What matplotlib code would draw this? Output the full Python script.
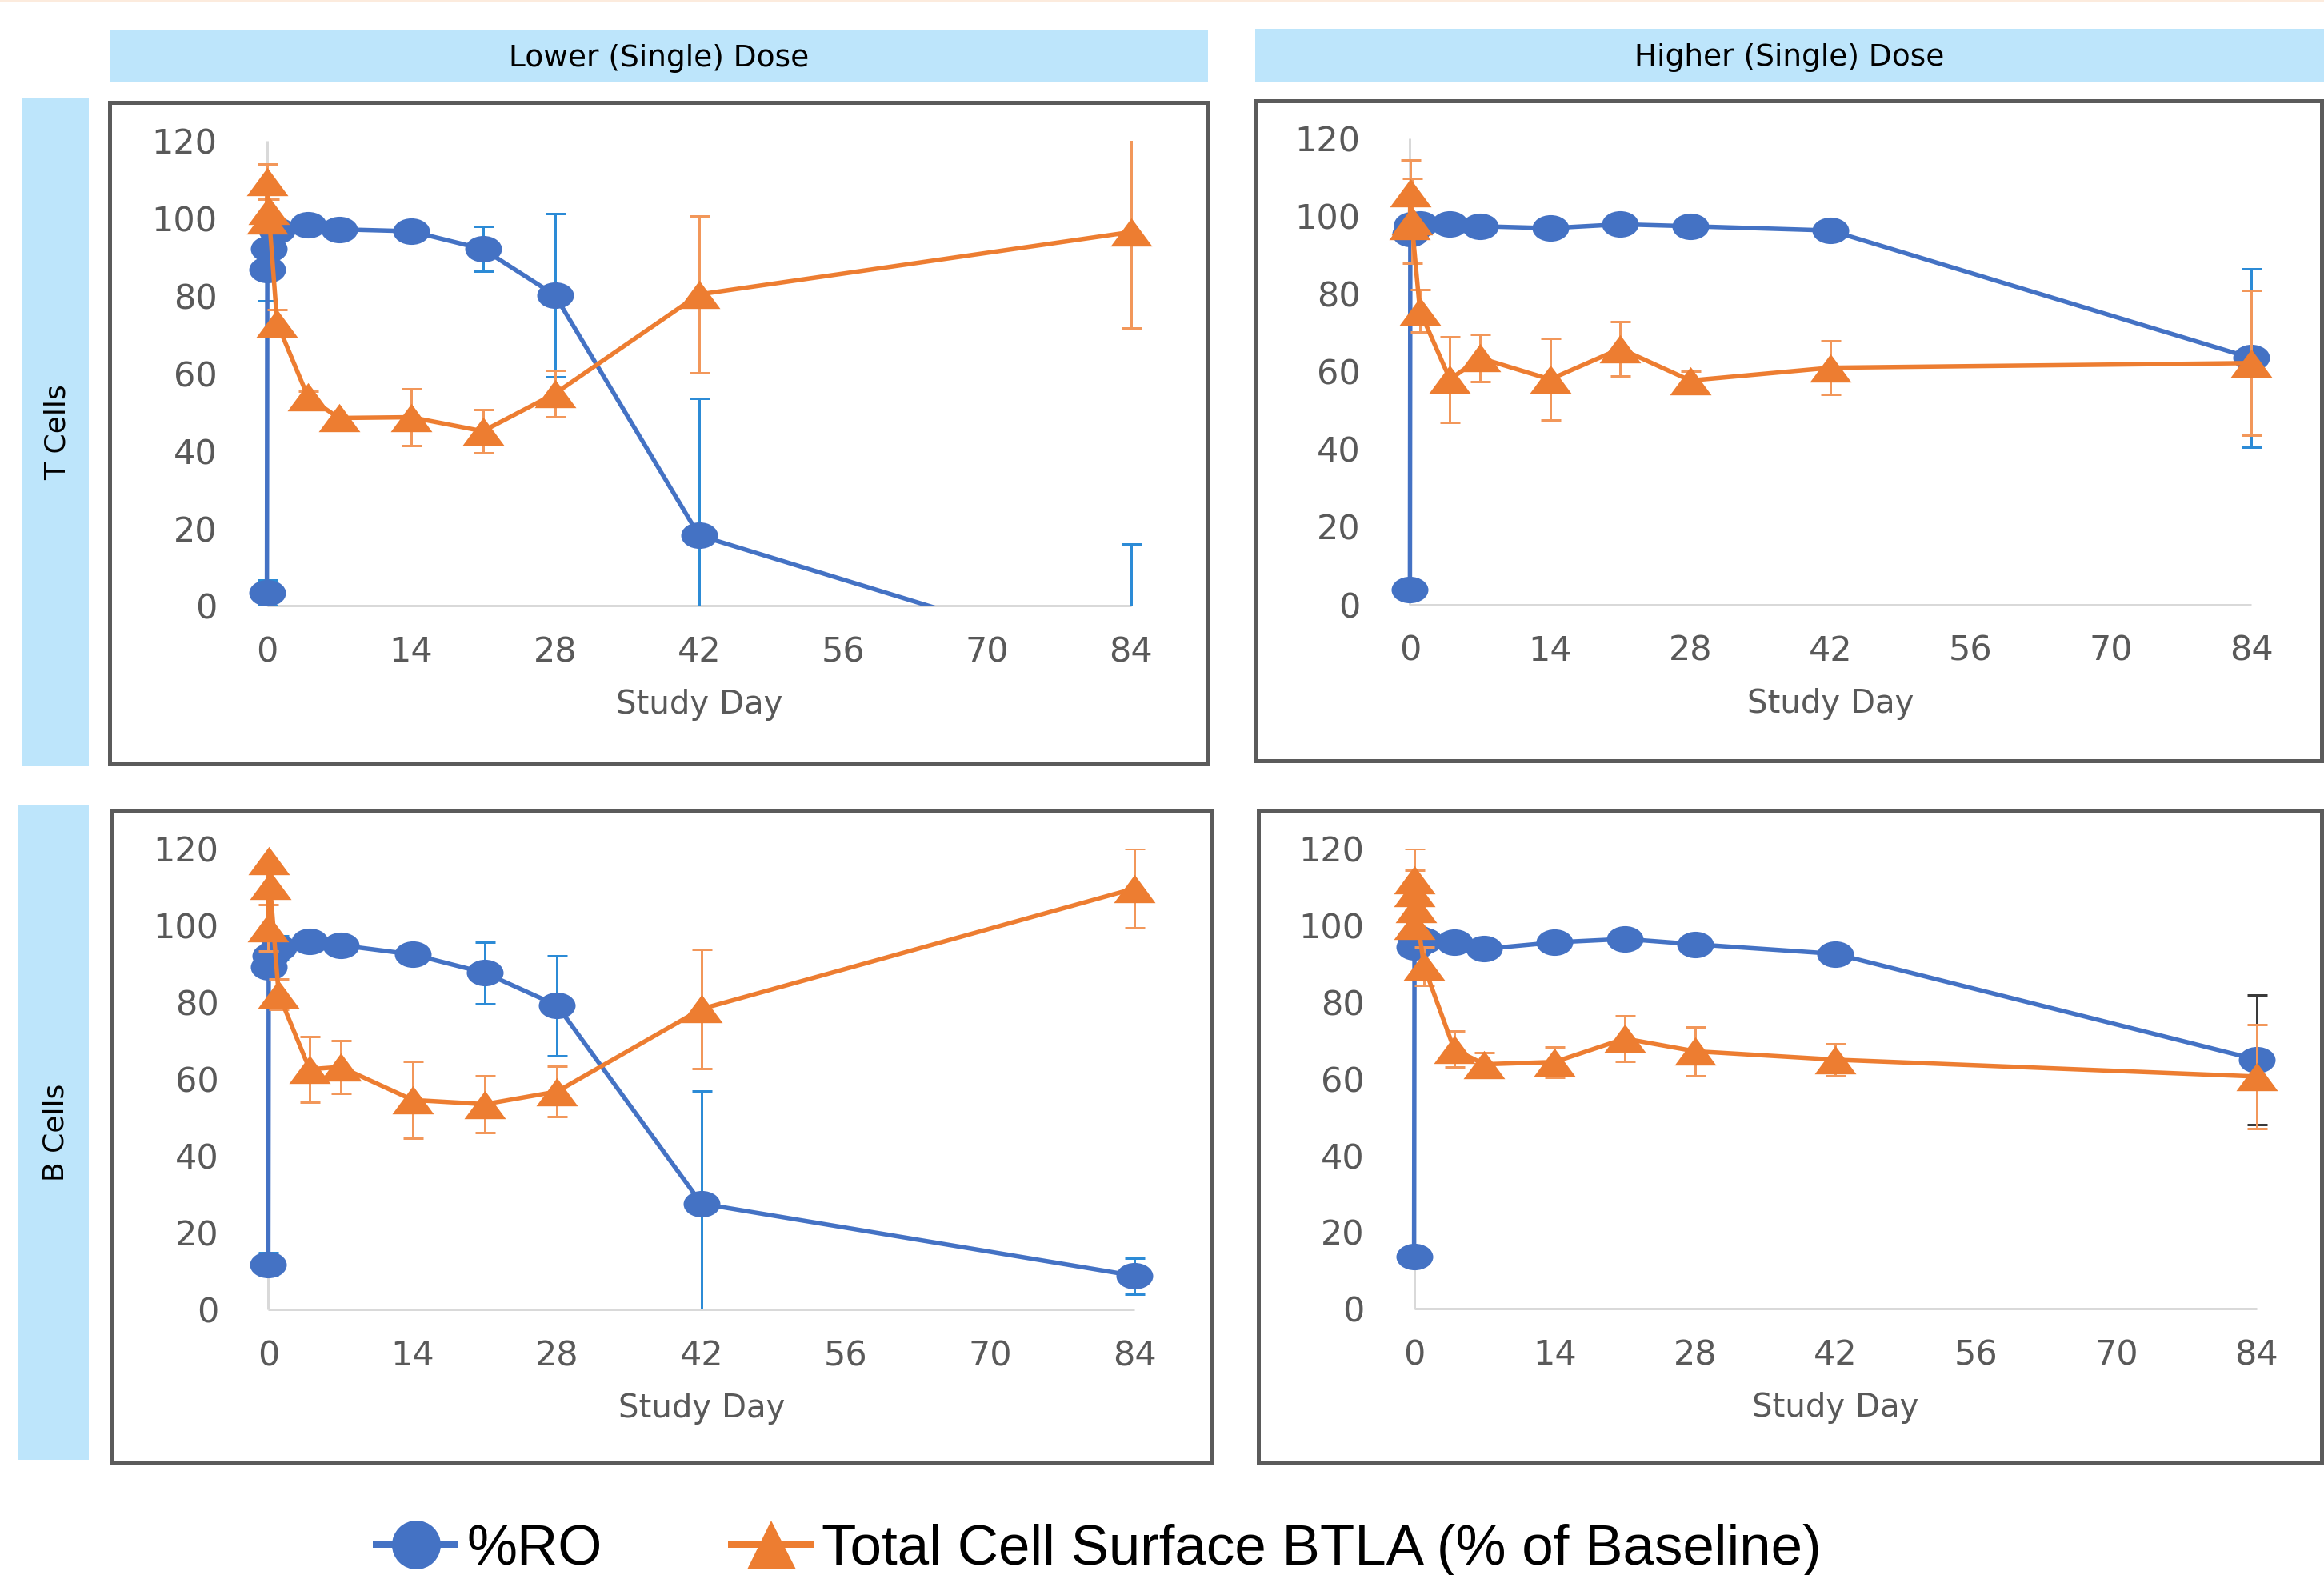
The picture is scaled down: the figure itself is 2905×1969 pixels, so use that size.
import numpy as np
import matplotlib
matplotlib.use("Agg")
import matplotlib.pyplot as plt
from matplotlib.path import Path
from matplotlib.transforms import Affine2D
from matplotlib.patches import Rectangle
from matplotlib.lines import Line2D
from matplotlib.font_manager import FontProperties

nan = np.nan

# ------------------------------------------------------------------ data
col_titles = ["Lower (Single) Dose", "Higher (Single) Dose"]
row_titles = ["T Cells", "B Cells"]
xticks = [0, 14, 28, 42, 56, 70, 84]
yticks = [0, 20, 40, 60, 80, 100, 120]
xlabel = "Study Day"
legend_labels = ["%RO", "Total Cell Surface BTLA (% of Baseline)"]

days = [0, 0.04, 0.17, 1, 4, 7, 14, 21, 28, 42, 84]
days_b_high_btla = [0, 0.02, 0.04, 0.17, 1, 4, 7, 14, 21, 28, 42, 84]

# T cells, lower dose
t_low_ro = [3.3, 86.8, 92.2, 97.0, 98.3, 97.2, 96.7, 92.1, 80.2, 18.2, -16.0]
t_low_ro_err = [3.3, 8.0, nan, nan, nan, nan, nan, 5.8, 21.0, 35.4, 32.0]
t_low_btla = [99.5, 109.5, 102.0, 73.0, 53.9, 48.5, 48.7, 45.1, 54.8, 80.4, 96.5]
t_low_btla_err = [nan, 4.5, 3.0, 3.5, 1.5, nan, 7.3, 5.5, 6.0, 20.3, 24.7]

# T cells, higher dose
t_high_ro = [3.9, 95.4, 97.6, 97.8, 97.9, 97.3, 96.8, 97.8, 97.3, 96.2, 63.4]
t_high_ro_err = [nan, nan, nan, nan, nan, nan, nan, nan, nan, nan, 22.9]
t_high_btla = [97.5, 105.9, 98.7, 75.5, 57.9, 63.4, 57.9, 65.8, 57.6, 60.9, 62.1]
t_high_btla_err = [nan, 8.5, 11.0, 5.5, 11.0, 6.0, 10.5, 7.0, 2.5, 6.9, 18.6]

# B cells, lower dose
b_low_ro = [11.8, 89.3, 92.1, 94.3, 96.0, 94.9, 92.5, 87.7, 79.2, 27.6, 8.8]
b_low_ro_err = [3.0, nan, nan, 3.0, nan, nan, nan, 8.0, 13.0, 29.4, 4.7]
b_low_btla = [99.5, 117.0, 110.5, 82.2, 62.6, 63.2, 54.6, 53.5, 56.8, 78.3, 109.7]
b_low_btla_err = [6.0, nan, nan, 4.0, 8.5, 6.8, 10.0, 7.4, 6.5, 15.6, 10.3]

# B cells, higher dose
b_high_ro = [13.6, 94.3, 97.0, 96.0, 95.6, 93.9, 95.6, 96.5, 95.1, 92.6, 65.0]
b_high_ro_err = [nan, nan, nan, nan, nan, nan, nan, nan, nan, nan, 16.9]
b_high_btla = [100.0, 112.0, 108.5, 104.5, 89.3, 67.7, 63.8, 64.4, 70.5, 67.2, 65.0, 60.6]
b_high_btla_err = [nan, 8.0, 6.0, nan, 5.0, 4.7, 3.0, 4.0, 6.0, 6.4, 4.2, 13.5]

# ------------------------------------------------------------------ style / layout
W, H, DPI = 2905, 1969, 100
PX = 72.0 / DPI  # points per pixel

BLUE = "#4472C4"
ORANGE = "#ED7D31"
BLUE_ERR = "#2C8BD6"
ORANGE_ERR = "#F2975A"
BOX = "#BDE5FB"
FRAME = "#5B5B5B"
GRAY_TXT = "#595959"
AXLINE = "#D9D9D9"

ellipse = Path.unit_circle().transformed(Affine2D().scale(1.0, 0.72))
tri = Path([(-1, -0.68), (1, -0.68), (0, 0.68), (-1, -0.68)],
           [Path.MOVETO, Path.LINETO, Path.LINETO, Path.CLOSEPOLY])

panels = [
    dict(x0=333.6, x84=1413.9, y0=757.4, y120=176.2, frame=(137, 128, 1510, 954),
         ro_x=days, ro=t_low_ro, ro_err=t_low_ro_err, bt_x=days, bt=t_low_btla,
         bt_err=t_low_btla_err, ro_ec=BLUE_ERR, bt_ec=ORANGE_ERR),
    dict(x0=1762.4, x84=2814.0, y0=755.5, y120=172.5, frame=(1570, 126, 2902, 951),
         ro_x=days, ro=t_high_ro, ro_err=t_high_ro_err, bt_x=days, bt=t_high_btla,
         bt_err=t_high_btla_err, ro_ec=BLUE_ERR, bt_ec=ORANGE_ERR),
    dict(x0=335.4, x84=1418.4, y0=1637.3, y120=1061.3, frame=(139, 1014, 1514, 1829),
         ro_x=days, ro=b_low_ro, ro_err=b_low_ro_err, bt_x=days, bt=b_low_btla,
         bt_err=b_low_btla_err, ro_ec=BLUE_ERR, bt_ec=ORANGE_ERR),
    dict(x0=1767.6, x84=2821.0, y0=1636.3, y120=1061.3, frame=(1573, 1014, 2902, 1829),
         ro_x=days, ro=b_high_ro, ro_err=b_high_ro_err, bt_x=days_b_high_btla, bt=b_high_btla,
         bt_err=b_high_btla_err, ro_ec="#3A3A3A", bt_ec=ORANGE_ERR),
]

header_boxes = [(138, 37, 1510, 103), (1569, 36, 2905, 103)]
row_boxes = [(27, 123, 111, 958), (22, 1006, 111, 1825)]

XPAD = 3.0


def fx(x):
    return x / W


def fy(y):
    return 1 - y / H


fig = plt.figure(figsize=(W / DPI, H / DPI), dpi=DPI)
fig.patch.set_facecolor("white")

# faint line at very top
fig.add_artist(Rectangle((0, fy(3)), 1, 3 / H, transform=fig.transFigure,
                         facecolor="#FCEBDD", edgecolor="none"))

# header boxes
for (l, t, r, b), title in zip(header_boxes, col_titles):
    fig.add_artist(Rectangle((fx(l), fy(b)), (r - l) / W, (b - t) / H,
                             transform=fig.transFigure, facecolor=BOX, edgecolor="none"))
    fig.text(fx((l + r) / 2), fy((t + b) / 2 + 3), title, ha="center", va="center",
             fontsize=27, color="black", family="DejaVu Sans")

# row boxes
for (l, t, r, b), title in zip(row_boxes, row_titles):
    fig.add_artist(Rectangle((fx(l), fy(b)), (r - l) / W, (b - t) / H,
                             transform=fig.transFigure, facecolor=BOX, edgecolor="none"))
    fig.text(fx((l + r) / 2 + 3), fy((t + b) / 2), title, ha="center", va="center",
             rotation=90, fontsize=26, color="black", family="DejaVu Sans")

for p in panels:
    l, t, r, b = p["frame"]
    fig.add_artist(Rectangle((fx(l), fy(b)), (r - l) / W, (b - t) / H,
                             transform=fig.transFigure, fill=False, edgecolor=FRAME,
                             linewidth=5 * PX))

    ppd = (p["x84"] - p["x0"]) / 84.0
    left = p["x0"] - XPAD * ppd
    right = p["x84"] + XPAD * ppd
    ax = fig.add_axes([fx(left), fy(p["y0"]), (right - left) / W, (p["y0"] - p["y120"]) / H])
    ax.set_xlim(-XPAD, 84 + XPAD)
    ax.set_ylim(0, 120)
    ax.set_facecolor("none")
    for s in ax.spines.values():
        s.set_visible(False)

    # axis lines
    ax.hlines(0, 0, 84, colors=AXLINE, linewidth=3 * PX, zorder=1, clip_on=False)
    ax.vlines(0, 0, 120, colors=AXLINE, linewidth=3 * PX, zorder=1, clip_on=False)

    ax.set_xticks(xticks)
    ax.set_yticks(yticks)
    ax.set_xticklabels([str(v) for v in xticks])
    ax.set_yticklabels([str(v) for v in yticks])
    ypad = (62 - XPAD * ppd) * PX
    ax.tick_params(axis="y", length=0, pad=ypad, labelsize=31, labelcolor=GRAY_TXT)
    ax.tick_params(axis="x", length=0, pad=37 * PX, labelsize=31, labelcolor=GRAY_TXT)

    # %RO series
    rx = np.asarray(p["ro_x"], float)
    ry = np.asarray(p["ro"], float)
    re = np.asarray(p["ro_err"], float)
    ax.errorbar(rx, ry, yerr=re, fmt="none", ecolor=p["ro_ec"], elinewidth=3 * PX,
                capsize=12.5 * PX, capthick=3 * PX, zorder=2)
    ax.plot(rx, ry, color=BLUE, linewidth=5.5 * PX, zorder=3)
    m = ry >= 0
    ax.plot(rx[m], ry[m], linestyle="none", marker=ellipse, markersize=46 * PX,
            color=BLUE, markeredgewidth=0, zorder=4, clip_on=False)

    # BTLA series
    bx = np.asarray(p["bt_x"], float)
    by = np.asarray(p["bt"], float)
    be = np.asarray(p["bt_err"], float)
    ax.errorbar(bx, by, yerr=be, fmt="none", ecolor=p["bt_ec"], elinewidth=3 * PX,
                capsize=12.5 * PX, capthick=3 * PX, zorder=5)
    ax.plot(bx, by, color=ORANGE, linewidth=5.5 * PX, zorder=6)
    m = by >= 0
    ax.plot(bx[m], by[m], linestyle="none", marker=tri, markersize=52 * PX,
            color=ORANGE, markeredgewidth=0, zorder=7, clip_on=False)

    fig.text(fx((p["x0"] + p["x84"]) / 2), fy(p["y0"] + 124), xlabel, ha="center",
             va="center", fontsize=29, color=GRAY_TXT, family="DejaVu Sans")

# legend
handles = [
    Line2D([], [], color=BLUE, linewidth=8 * PX, marker="o", markersize=61 * PX,
           markeredgewidth=0),
    Line2D([], [], color=ORANGE, linewidth=8 * PX, marker="^", markersize=61 * PX,
           markeredgewidth=0),
]
fsz = 51
em = fsz / PX
fig.legend(handles, legend_labels, loc="center left",
           bbox_to_anchor=(fx(470), fy(1938)), ncol=2, frameon=False,
           prop=FontProperties(family="Liberation Sans", size=fsz),
           handlelength=99 / em, handletextpad=14 / em, columnspacing=162 / em,
           borderpad=0, borderaxespad=0, numpoints=1)

fig.savefig("out.png", dpi=DPI, facecolor="white")
